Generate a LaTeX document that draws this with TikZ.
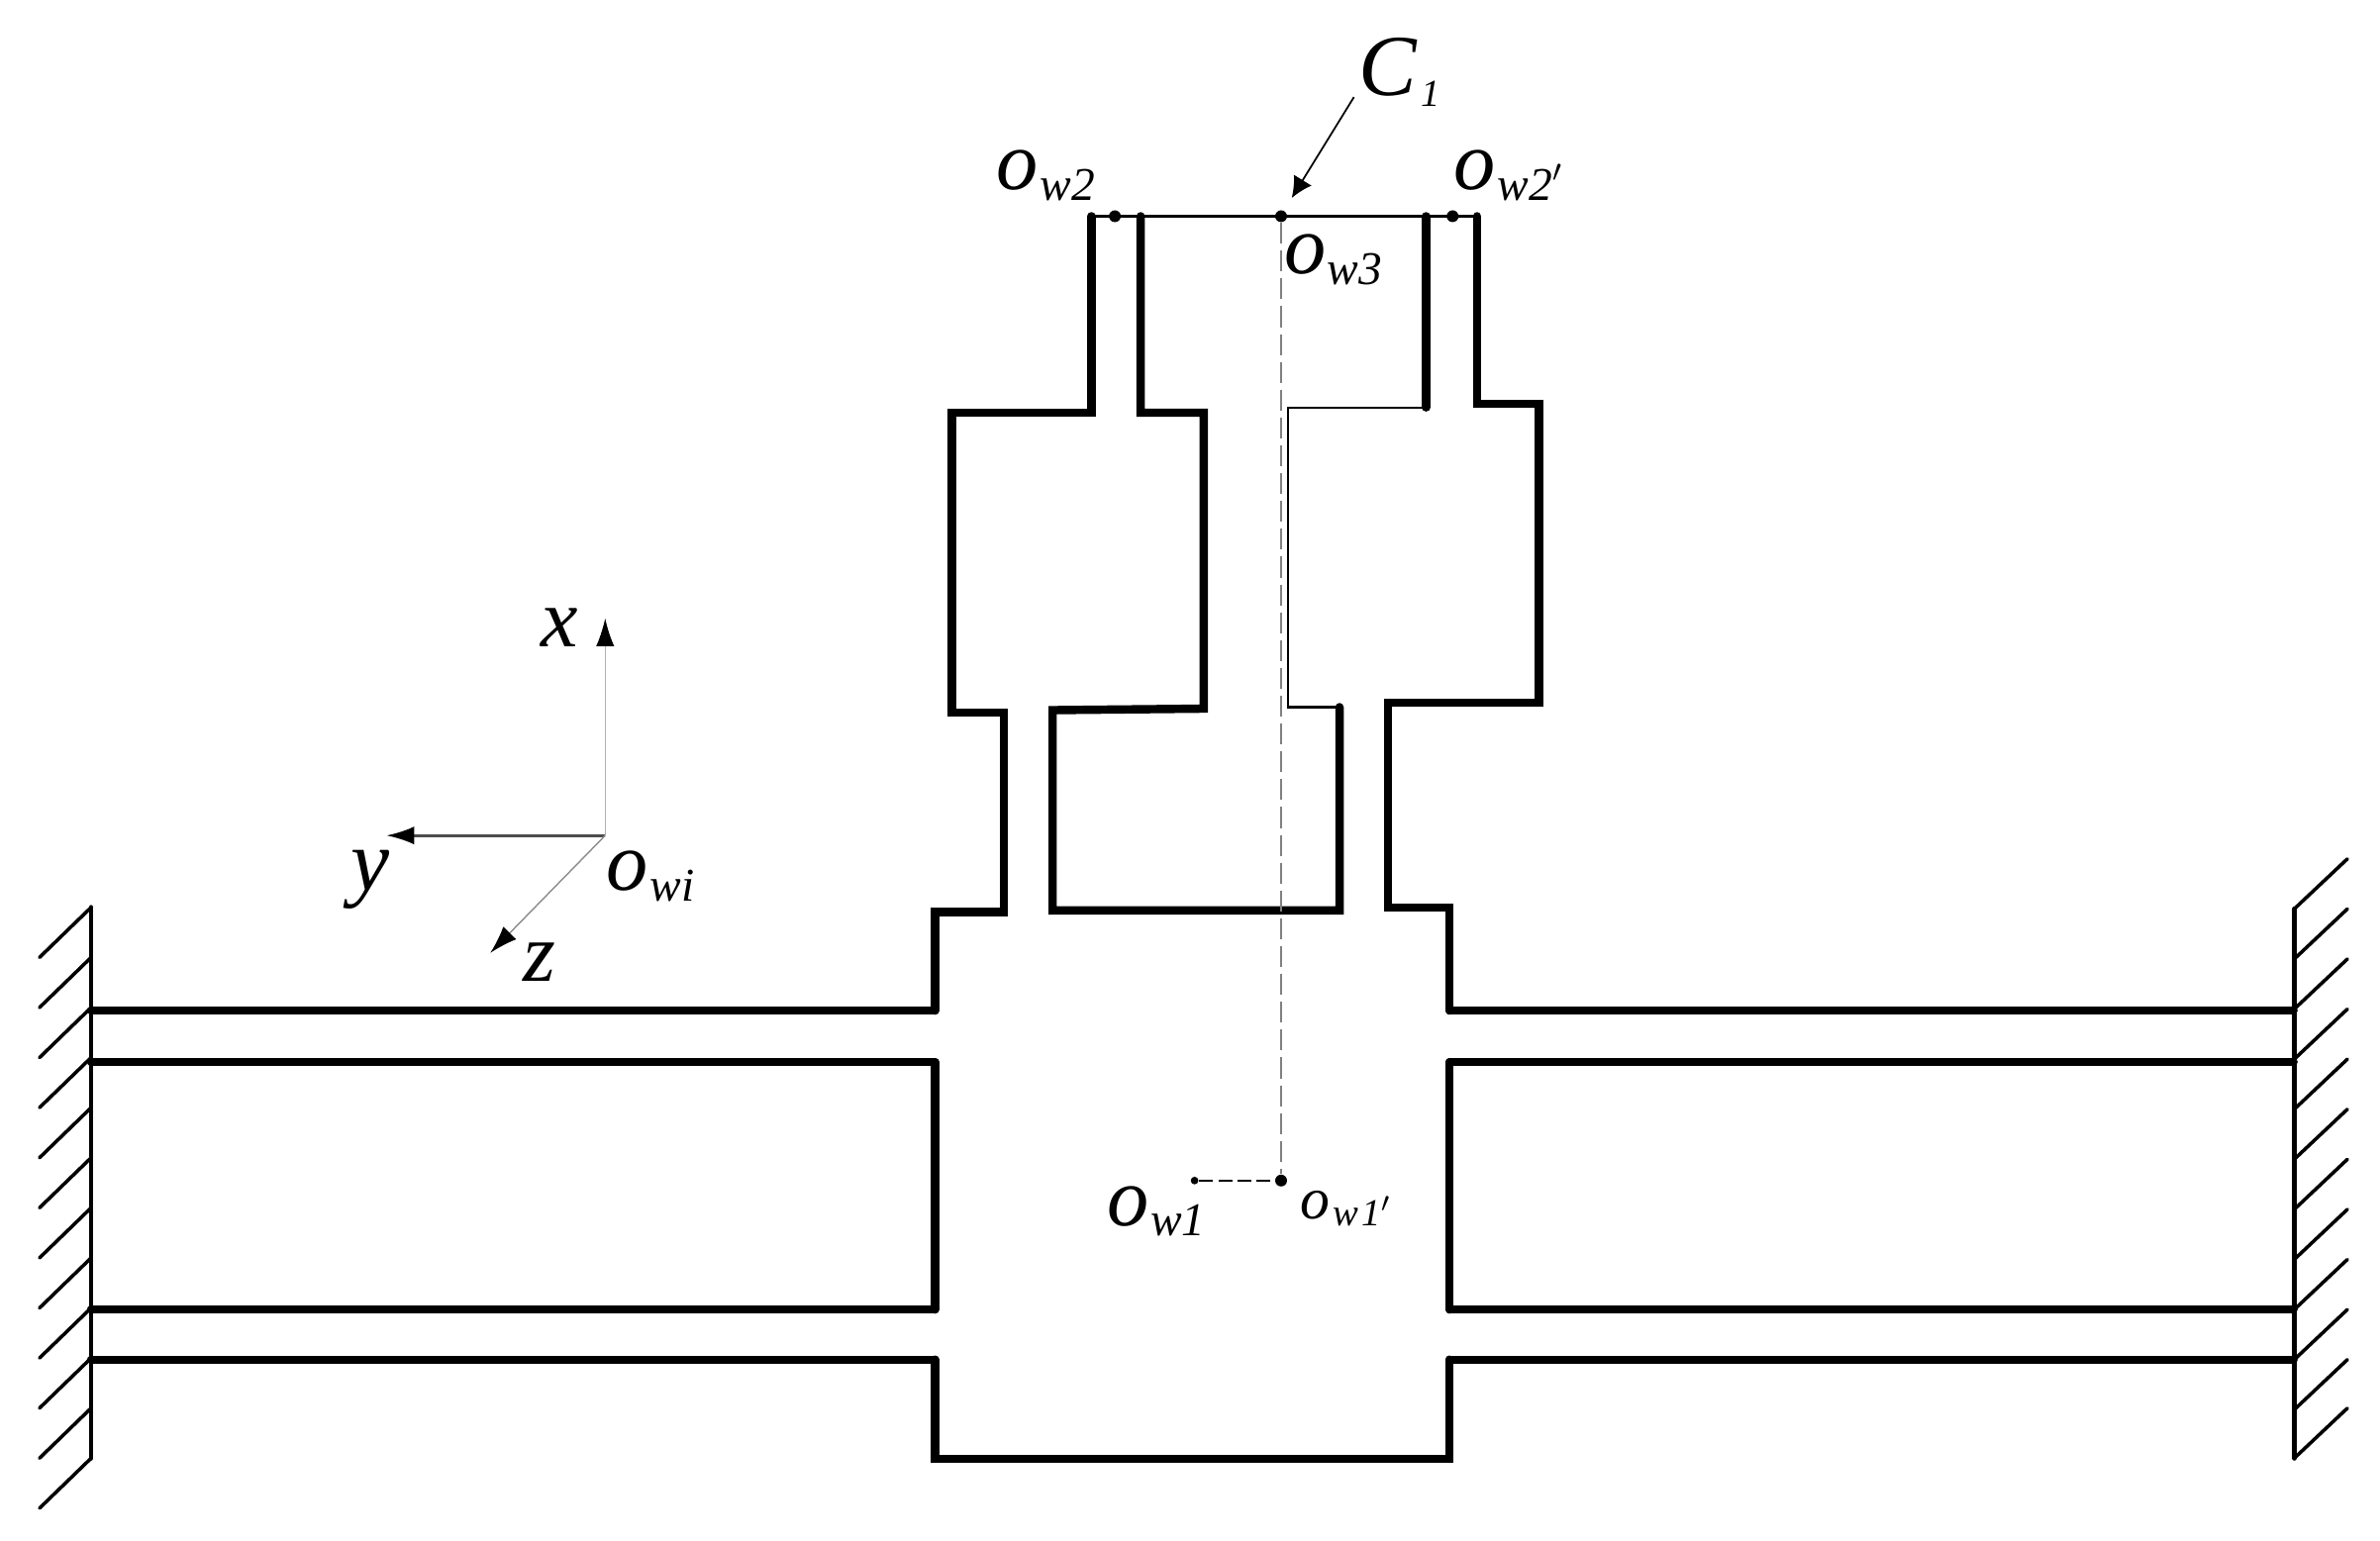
\documentclass[tikz,border=0pt]{standalone}
\usepackage{fontspec}
\setmainfont{Liberation Serif}
\usepackage{tikz}
\usetikzlibrary{arrows.meta}
\tikzset{
  beam/.style={line width=2.4pt, line cap=round, line join=miter},
  thinline/.style={line width=0.6pt},
  wall/.style={line width=1.4pt, line cap=round},
  hatch/.style={line width=1pt, line cap=round},
  axis/.style={-{Latex[length=8pt,width=5.2pt,color=black]}},
  pointmark/.style={circle, fill=black, inner sep=0pt, minimum size=3.4pt},
  smallmark/.style={circle, fill=black, inner sep=0pt, minimum size=2.2pt},
  lab/.style={inner sep=0pt, anchor=base west, font=\itshape\fontsize{24}{24}\selectfont}
}
\newcommand{\olabel}[1]{o{\fontsize{13.5}{13.5}\selectfont\kern0.5pt\raisebox{-3pt}{#1}}}
\begin{document}
\begin{tikzpicture}[x=0.015332cm, y=-0.015332cm]
  \useasboundingbox (0,0) rectangle (1568,1015.5);

  % Left wall and hatching
  \draw[wall] (60,598) -- (60,961);
  \foreach \y in {598,631,664,697,730,763,796,829,862,895,928,961}
    \draw[hatch] (60,\y) -- ++(-34,33);

  % Right wall and hatching
  \draw[wall] (1511.5,599) -- (1511.5,961);
  \foreach \y in {599,632,665,698,731,764,797,830,863,896,929,961}
    \draw[hatch] (1511.5,\y) -- ++(35,-33);

  % Straight beams on both sides
  \foreach \y in {666,700,863,896} {
    \draw[beam] (60,\y) -- (616,\y);
    \draw[beam] (955,\y) -- (1511,\y);
  }

  % Central block
  \draw[beam] (616,700) -- (616,863);
  \draw[beam] (955,700) -- (955,863);
  \draw[beam] (616,896) -- (616,961.5) -- (955,961.5) -- (955,896);

  % Outer outline, left then right
  \draw[beam] (616,666) -- (616,601) -- (661.5,601) -- (661.5,469.5) -- (627,469.5)
    -- (627,272) -- (719,272) -- (719,142.5);
  \draw[beam] (955,666) -- (955,598) -- (914.5,598) -- (914.5,463) -- (1014,463)
    -- (1014,266) -- (973,266) -- (973,142.5);

  % Inner outline
  \draw[beam] (751.5,142.5) -- (751.5,272) -- (793,272) -- (793,467) -- (693.5,468)
    -- (693.5,600) -- (882.5,600) -- (882.5,466);
  \draw[thinline] (882.5,466) -- (848.5,466) -- (848.5,268.5) -- (939.5,268.5);
  \draw[beam] (939.5,268.5) -- (939.5,142.5);

  % Top line and points
  \node[pointmark] (pa) at (734.5,142.5) {};
  \node[pointmark] (pb) at (844,142.5) {};
  \node[pointmark] (pc) at (957,142.5) {};
  \draw[thinline] (719,142.5) -- (973,142.5);

  % Dashed centre line
  \node[pointmark] (pd) at (844,778) {};
  \node[smallmark] (pe) at (787,778) {};
  \draw[line width=0.8pt, black!50, dash pattern=on 6pt off 2pt] (pb) -- (pd);
  \draw[line width=0.5pt, dash pattern=on 4pt off 1.5pt] (pe) -- (pd);

  % Leader arrow
  \coordinate (leadstart) at (892,64);
  \coordinate (leadend) at (851,130.5);
  \draw[line width=0.5pt, -{Latex[length=6pt,width=6pt]}] (leadstart) -- (leadend);
  \node[lab, font=\itshape\fontsize{25}{25}\selectfont] (cone) at (895,63)
    {C{\fontsize{11}{11}\selectfont\kern1pt\raisebox{-3pt}{1}}};

  % Axes
  \coordinate (owi) at (398.7,550.6);
  \coordinate (xtip) at (398.7,407.5);
  \coordinate (ytip) at (254.6,550.6);
  \coordinate (ztip) at (323,628);
  \draw[axis, line width=0.4pt, black!30] (owi) -- (xtip);
  \draw[axis, line width=0.8pt, black!70] (owi) -- (ytip);
  \draw[axis, line width=0.4pt, black!45] (owi) -- (ztip);
  \node[lab] (xlab) at (356,426) {x};
  \node[lab, font=\itshape\fontsize{25}{25}\selectfont] (ylab) at (231,587) {y};
  \node[lab] (zlab) at (344.5,647) {z};

  % Point labels
  \node[lab] (lw2) at (656,125) {\olabel{w2}};
  \node[lab] (lw2p) at (957.5,125) {\olabel{w2$'$}};
  \node[lab] (lw3) at (845.5,180.5) {\olabel{w3}};
  \node[lab] (lwi) at (399,587) {\olabel{wi}};
  \node[lab] (lw1) at (729,807.5) {\olabel{w1}};
  \node[lab, font=\itshape\fontsize{17}{17}\selectfont] (lw1p) at (856,803.5)
    {o{\fontsize{11}{11}\selectfont\kern1pt\raisebox{-2pt}{w\kern1pt 1$'$}}};
\end{tikzpicture}
\end{document}
